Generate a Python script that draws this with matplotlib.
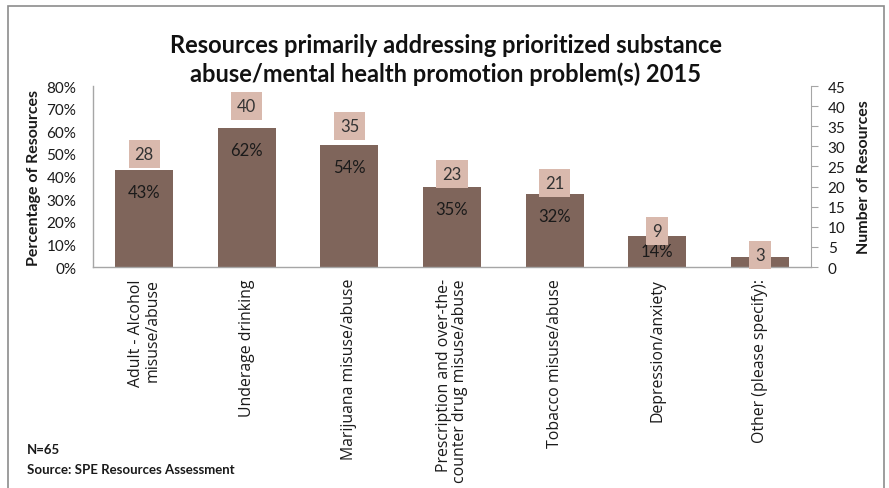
import matplotlib
matplotlib.use("Agg")
import matplotlib.pyplot as plt
from matplotlib.patches import Rectangle
from matplotlib.ticker import FuncFormatter, MultipleLocator

plt.rcParams['font.family'] = ['Lato', 'DejaVu Sans']

categories = [
    "Adult - Alcohol\nmisuse/abuse",
    "Underage drinking",
    "Marijuana misuse/abuse",
    "Prescription and over-the-\ncounter drug misuse/abuse",
    "Tobacco misuse/abuse",
    "Depression/anxiety",
    "Other (please specify):",
]
counts = [28, 40, 35, 23, 21, 9, 3]
total_n = 65
percentages = [c / total_n for c in counts]

title = ("Resources primarily addressing prioritized substance\n"
         "abuse/mental health promotion problem(s) 2015")

BAR_COLOR = "#7F655B"
BOX_COLOR = "#D9B9AD"
AXIS_GREY = "#A6A6A6"
TEXT = "#1A1A1A"

fig = plt.figure(figsize=(8.89, 4.89), dpi=100)
fig.patch.set_facecolor("white")

# outer chart-area border
fig.add_artist(Rectangle((8 / 889, -0.01), (884 - 8) / 889, 1 - 7 / 489 + 0.01,
                         transform=fig.transFigure, fill=False,
                         edgecolor="#8C8C8C", linewidth=1.2))

ax = fig.add_axes([93 / 889, 1 - 268 / 489, (811 - 93) / 889, (268 - 87) / 489])
x = list(range(len(categories)))
ax.bar(x, percentages, width=0.565, color=BAR_COLOR, zorder=2)
ax.set_xlim(-0.5, len(categories) - 0.5)
ax.set_ylim(0, 0.8)
ax.yaxis.set_major_locator(MultipleLocator(0.1))
ax.yaxis.set_major_formatter(FuncFormatter(lambda v, _: f"{v * 100:.0f}%"))
ax.tick_params(axis="y", length=0, pad=12, labelsize=11, labelcolor=TEXT)
ax.tick_params(axis="x", length=0, pad=8)
ax.set_xticks(x)
ax.set_xticklabels(categories, rotation=90, ha="center", va="top",
                   fontsize=11.4, color=TEXT, multialignment="right",
                   family=["Open Sans", "DejaVu Sans"], linespacing=1.05)
for side in ("top", "right"):
    ax.spines[side].set_visible(False)
for side in ("left", "bottom"):
    ax.spines[side].set_color(AXIS_GREY)
    ax.spines[side].set_linewidth(1.0)
ax.set_ylabel("Percentage of Resources", fontsize=11.5, fontweight="bold",
              color=TEXT, labelpad=4)

# percentage labels inside the bars
px_to_data = 0.8 / 181
for xi, p in zip(x, percentages):
    y_lab = max(p - 22 * px_to_data, 16 * px_to_data)
    ax.text(xi, y_lab, f"{p * 100:.0f}%", ha="center", va="center",
            fontsize=12, color=TEXT, zorder=3)

# secondary axis with resource counts
ax2 = ax.twinx()
ax2.set_ylim(0, 45)
ax2.yaxis.set_major_locator(MultipleLocator(5))
ax2.tick_params(axis="y", direction="out", length=5, width=0.8,
                color=AXIS_GREY, pad=7, labelsize=11, labelcolor=TEXT)
for side in ("top", "left", "bottom"):
    ax2.spines[side].set_visible(False)
ax2.spines["right"].set_color(AXIS_GREY)
ax2.set_ylabel("Number of Resources", fontsize=11.5, fontweight="bold",
               color=TEXT, labelpad=8)
for xi, c in zip(x, counts):
    ax2.text(xi, c, f"{c}", ha="center", va="center", fontsize=12,
             color="#333333", zorder=5,
             bbox=dict(boxstyle="square,pad=0.36", facecolor=BOX_COLOR,
                       edgecolor="none"))

fig.text(446 / 889, 1 - 60 / 489, title, ha="center", va="center",
         fontsize=17, fontweight="bold", color="#111111", linespacing=1.3)

fig.text(27 / 889, 1 - 450 / 489, "N=65", ha="left", va="center",
         fontsize=9.5, fontweight="bold", color=TEXT)
fig.text(27 / 889, 1 - 470 / 489, "Source: SPE Resources Assessment",
         ha="left", va="center", fontsize=9.5, fontweight="bold", color=TEXT)

fig.savefig("out.png", dpi=100, facecolor="white")
